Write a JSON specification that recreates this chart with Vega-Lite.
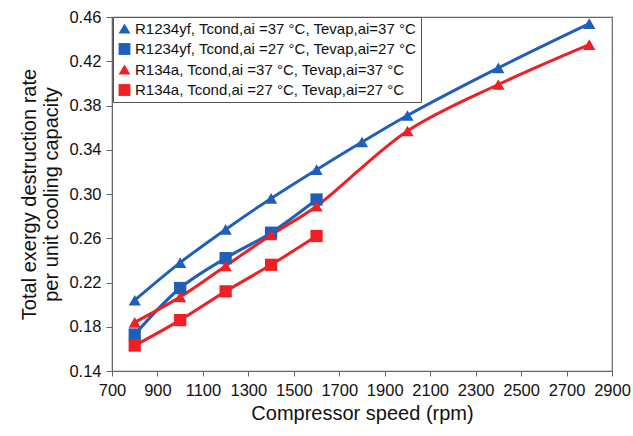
{
  "$schema": "https://vega.github.io/schema/vega-lite/v6.json",
  "width": 500,
  "height": 354,
  "autosize": "none",
  "padding": {"left": 112, "top": 17, "right": 21, "bottom": 65},
  "background": "white",
  "config": {
    "font": "Liberation Sans",
    "view": {"stroke": "#666666", "strokeWidth": 1.2},
    "axis": {"grid": false, "domainColor": "#666666", "tickColor": "#666666", "labelColor": "#111111", "titleColor": "#111111", "labelFont": "Liberation Sans", "titleFont": "Liberation Sans", "titleFontWeight": "normal"},
    "legend": {"title": null, "orient": "none", "legendX": 1, "legendY": 0, "labelFontSize": 15, "labelColor": "#111111", "labelLimit": 400, "symbolSize": 140, "symbolOpacity": 1, "symbolStrokeWidth": 0, "rowPadding": 4.5, "labelOffset": 3, "padding": 4, "strokeColor": "#555555", "fillColor": "white"}
  },
  "data": {
    "values": [
      {"series": "R1234yf, Tcond,ai =37 °C, Tevap,ai=37 °C", "rpm": 800, "value": 0.204},
      {"series": "R1234yf, Tcond,ai =37 °C, Tevap,ai=37 °C", "rpm": 1000, "value": 0.238},
      {"series": "R1234yf, Tcond,ai =37 °C, Tevap,ai=37 °C", "rpm": 1200, "value": 0.268},
      {"series": "R1234yf, Tcond,ai =37 °C, Tevap,ai=37 °C", "rpm": 1400, "value": 0.296},
      {"series": "R1234yf, Tcond,ai =37 °C, Tevap,ai=37 °C", "rpm": 1600, "value": 0.322},
      {"series": "R1234yf, Tcond,ai =37 °C, Tevap,ai=37 °C", "rpm": 1800, "value": 0.347},
      {"series": "R1234yf, Tcond,ai =37 °C, Tevap,ai=37 °C", "rpm": 2000, "value": 0.371},
      {"series": "R1234yf, Tcond,ai =37 °C, Tevap,ai=37 °C", "rpm": 2400, "value": 0.414},
      {"series": "R1234yf, Tcond,ai =37 °C, Tevap,ai=37 °C", "rpm": 2800, "value": 0.454},
      {"series": "R1234yf, Tcond,ai =27 °C, Tevap,ai=27 °C", "rpm": 800, "value": 0.173},
      {"series": "R1234yf, Tcond,ai =27 °C, Tevap,ai=27 °C", "rpm": 1000, "value": 0.215},
      {"series": "R1234yf, Tcond,ai =27 °C, Tevap,ai=27 °C", "rpm": 1200, "value": 0.242},
      {"series": "R1234yf, Tcond,ai =27 °C, Tevap,ai=27 °C", "rpm": 1400, "value": 0.265},
      {"series": "R1234yf, Tcond,ai =27 °C, Tevap,ai=27 °C", "rpm": 1600, "value": 0.295},
      {"series": "R134a, Tcond,ai =37 °C, Tevap,ai=37 °C", "rpm": 800, "value": 0.184},
      {"series": "R134a, Tcond,ai =37 °C, Tevap,ai=37 °C", "rpm": 1000, "value": 0.207},
      {"series": "R134a, Tcond,ai =37 °C, Tevap,ai=37 °C", "rpm": 1200, "value": 0.235},
      {"series": "R134a, Tcond,ai =37 °C, Tevap,ai=37 °C", "rpm": 1400, "value": 0.263},
      {"series": "R134a, Tcond,ai =37 °C, Tevap,ai=37 °C", "rpm": 1600, "value": 0.289},
      {"series": "R134a, Tcond,ai =37 °C, Tevap,ai=37 °C", "rpm": 2000, "value": 0.357},
      {"series": "R134a, Tcond,ai =37 °C, Tevap,ai=37 °C", "rpm": 2400, "value": 0.399},
      {"series": "R134a, Tcond,ai =37 °C, Tevap,ai=37 °C", "rpm": 2800, "value": 0.435},
      {"series": "R134a, Tcond,ai =27 °C, Tevap,ai=27 °C", "rpm": 800, "value": 0.163},
      {"series": "R134a, Tcond,ai =27 °C, Tevap,ai=27 °C", "rpm": 1000, "value": 0.186},
      {"series": "R134a, Tcond,ai =27 °C, Tevap,ai=27 °C", "rpm": 1200, "value": 0.212},
      {"series": "R134a, Tcond,ai =27 °C, Tevap,ai=27 °C", "rpm": 1400, "value": 0.236},
      {"series": "R134a, Tcond,ai =27 °C, Tevap,ai=27 °C", "rpm": 1600, "value": 0.262}
    ]
  },
  "encoding": {
    "x": {
      "field": "rpm", "type": "quantitative",
      "scale": {"domain": [700, 2900], "nice": false, "zero": false},
      "axis": {"values": [700, 900, 1100, 1300, 1500, 1700, 1900, 2100, 2300, 2500, 2700, 2900], "format": "d", "title": "Compressor speed (rpm)", "titleFontSize": 20, "labelFontSize": 16.5, "tickSize": 5, "labelPadding": 6, "titlePadding": 5, "labelFlush": false}
    },
    "y": {
      "field": "value", "type": "quantitative",
      "scale": {"domain": [0.14, 0.46], "nice": false, "zero": false},
      "axis": {"values": [0.14, 0.18, 0.22, 0.26, 0.30, 0.34, 0.38, 0.42, 0.46], "format": ".2f", "title": ["Total exergy destruction rate", "per unit cooling capacity"], "titleFontSize": 20, "titleLineHeight": 22, "labelFontSize": 16.5, "tickSize": 6, "labelPadding": 5, "titlePadding": 7, "labelFlush": false}
    },
    "color": {
      "field": "series", "type": "nominal",
      "scale": {
        "domain": ["R1234yf, Tcond,ai =37 °C, Tevap,ai=37 °C", "R1234yf, Tcond,ai =27 °C, Tevap,ai=27 °C", "R134a, Tcond,ai =37 °C, Tevap,ai=37 °C", "R134a, Tcond,ai =27 °C, Tevap,ai=27 °C"],
        "range": ["#1F5FBA", "#1F5FBA", "#EE2024", "#EE2024"]
      }
    }
  },
  "layer": [
    {
      "mark": {"type": "line", "interpolate": "catmull-rom", "strokeWidth": 3}
    },
    {
      "mark": {"type": "point", "filled": true, "opacity": 1, "size": 150},
      "encoding": {
        "shape": {
          "field": "series", "type": "nominal",
          "scale": {
            "domain": ["R1234yf, Tcond,ai =37 °C, Tevap,ai=37 °C", "R1234yf, Tcond,ai =27 °C, Tevap,ai=27 °C", "R134a, Tcond,ai =37 °C, Tevap,ai=37 °C", "R134a, Tcond,ai =27 °C, Tevap,ai=27 °C"],
            "range": ["triangle-up", "square", "triangle-up", "square"]
          }
        }
      }
    }
  ]
}
